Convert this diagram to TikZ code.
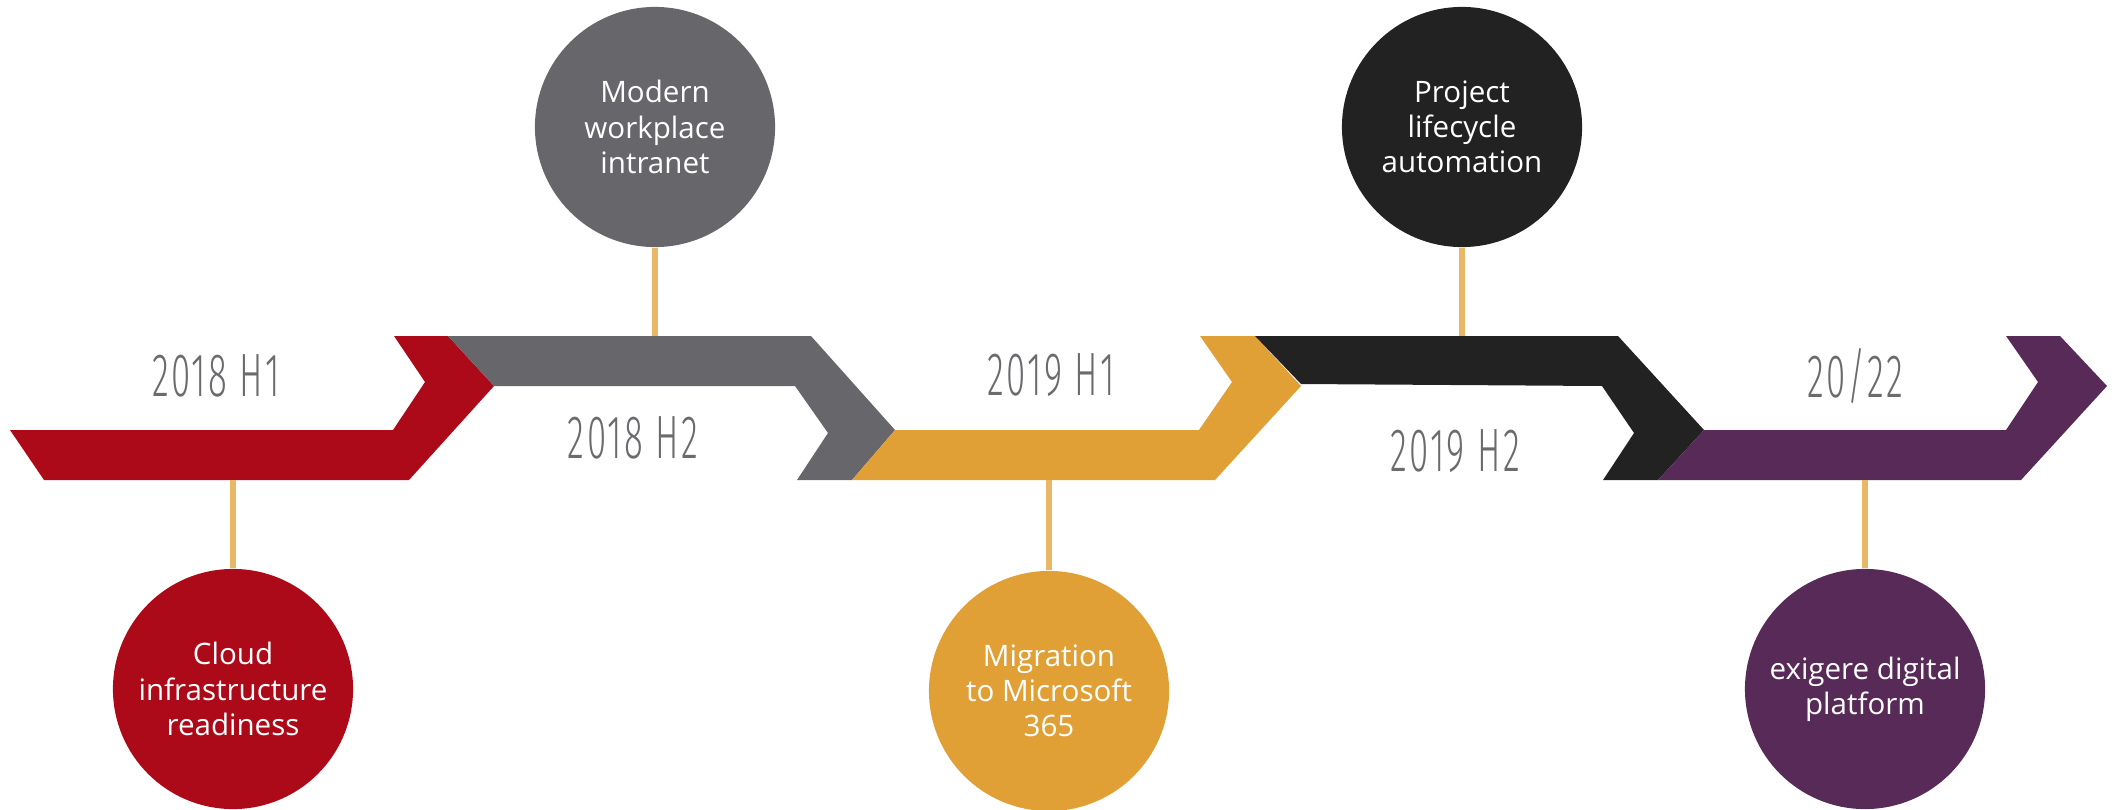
\documentclass[tikz,border=0pt]{standalone}
\usepackage{fontspec}
\setmainfont{Open Sans}
\newfontfamily\yearfont[FakeStretch=0.57, LetterSpace=4]{Fira Sans Light}
\definecolor{msred}{HTML}{AD0A19}
\definecolor{msgrey}{HTML}{67666B}
\definecolor{msorange}{HTML}{E0A036}
\definecolor{msblack}{HTML}{222222}
\definecolor{mspurple}{HTML}{572A57}
\definecolor{msstem}{HTML}{E9B867}
\definecolor{mstext}{HTML}{6B6B6F}
\tikzset{
	milestone/.style = {circle, inner sep=0pt, minimum size=2.4cm, align=center,
		text=white, font=\fontsize{8.4}{10}\selectfont},
	ms_red/.style = {milestone, fill=msred},
	ms_grey/.style = {milestone, fill=msgrey},
	ms_orange/.style = {milestone, fill=msorange},
	ms_black/.style = {milestone, fill=msblack},
	ms_purple/.style = {milestone, fill=mspurple},
	period/.style = {inner sep=0pt, text=mstext,
		font=\yearfont\fontsize{17.4}{19}\selectfont},
	stem/.style = {draw=msstem, line width=1.6pt}
}
\begin{document}
\begin{tikzpicture}[x=0.01cm, y=-0.01cm]
\useasboundingbox (0,0) rectangle (2125,809);
\fill[msred] (10,430) -- (393,430) -- (425,382) -- (394,336) -- (448,336)
	-- (494,386) -- (409,480) -- (44,480) -- cycle;
\fill[msgrey] (448,336) -- (811,336) -- (895,430) -- (852,480) -- (797,480)
	-- (828,433) -- (795,386) -- (494,386) -- cycle;
\fill[msorange] (895,430) -- (1199,430) -- (1232,382) -- (1200,336) -- (1255,336)
	-- (1301,386) -- (1215,480) -- (852,480) -- cycle;
\fill[msblack] (1255,336) -- (1618,336) -- (1704,430) -- (1658,480) -- (1603,480)
	-- (1634,433) -- (1602,386) -- (1301,384) -- cycle;
\fill[mspurple] (1704,430) -- (2006,430) -- (2038,382) -- (2006,336) -- (2060,336)
	-- (2107,386) -- (2021,480) -- (1658,480) -- cycle;

\node [ms_red] (cloud) at (233,689) {Cloud\\infrastructure\\readiness};
\node [ms_grey] (intranet) at (655,127) {Modern\\workplace\\intranet};
\node [ms_orange] (m365) at (1049,691) {Migration\\to Microsoft\\365};
\node [ms_black] (lifecycle) at (1462,127) {Project\\lifecycle\\automation};
\node [ms_purple] (exigere) at (1865,689) {exigere digital\\platform};

\coordinate (redbar) at (233,480);
\coordinate (greybar) at (655,336);
\coordinate (orangebar) at (1049,480);
\coordinate (blackbar) at (1462,336);
\coordinate (purplebar) at (1865,480);
\draw[stem] (cloud.north) -- (redbar);
\draw[stem] (intranet.south) -- (greybar);
\draw[stem] (m365.north) -- (orangebar);
\draw[stem] (lifecycle.south) -- (blackbar);
\draw[stem] (exigere.north) -- (purplebar);

\node [period] (h18a) at (216,376) {2018 H1};
\node [period] (h18b) at (633,438) {2018 H2};
\node [period] (h19a) at (1051,375) {2019 H1};
\node [period] (h19b) at (1455,451) {2019 H2};
\node [period] (h2022) at (1855,376) {20/22};
\end{tikzpicture}
\end{document}
